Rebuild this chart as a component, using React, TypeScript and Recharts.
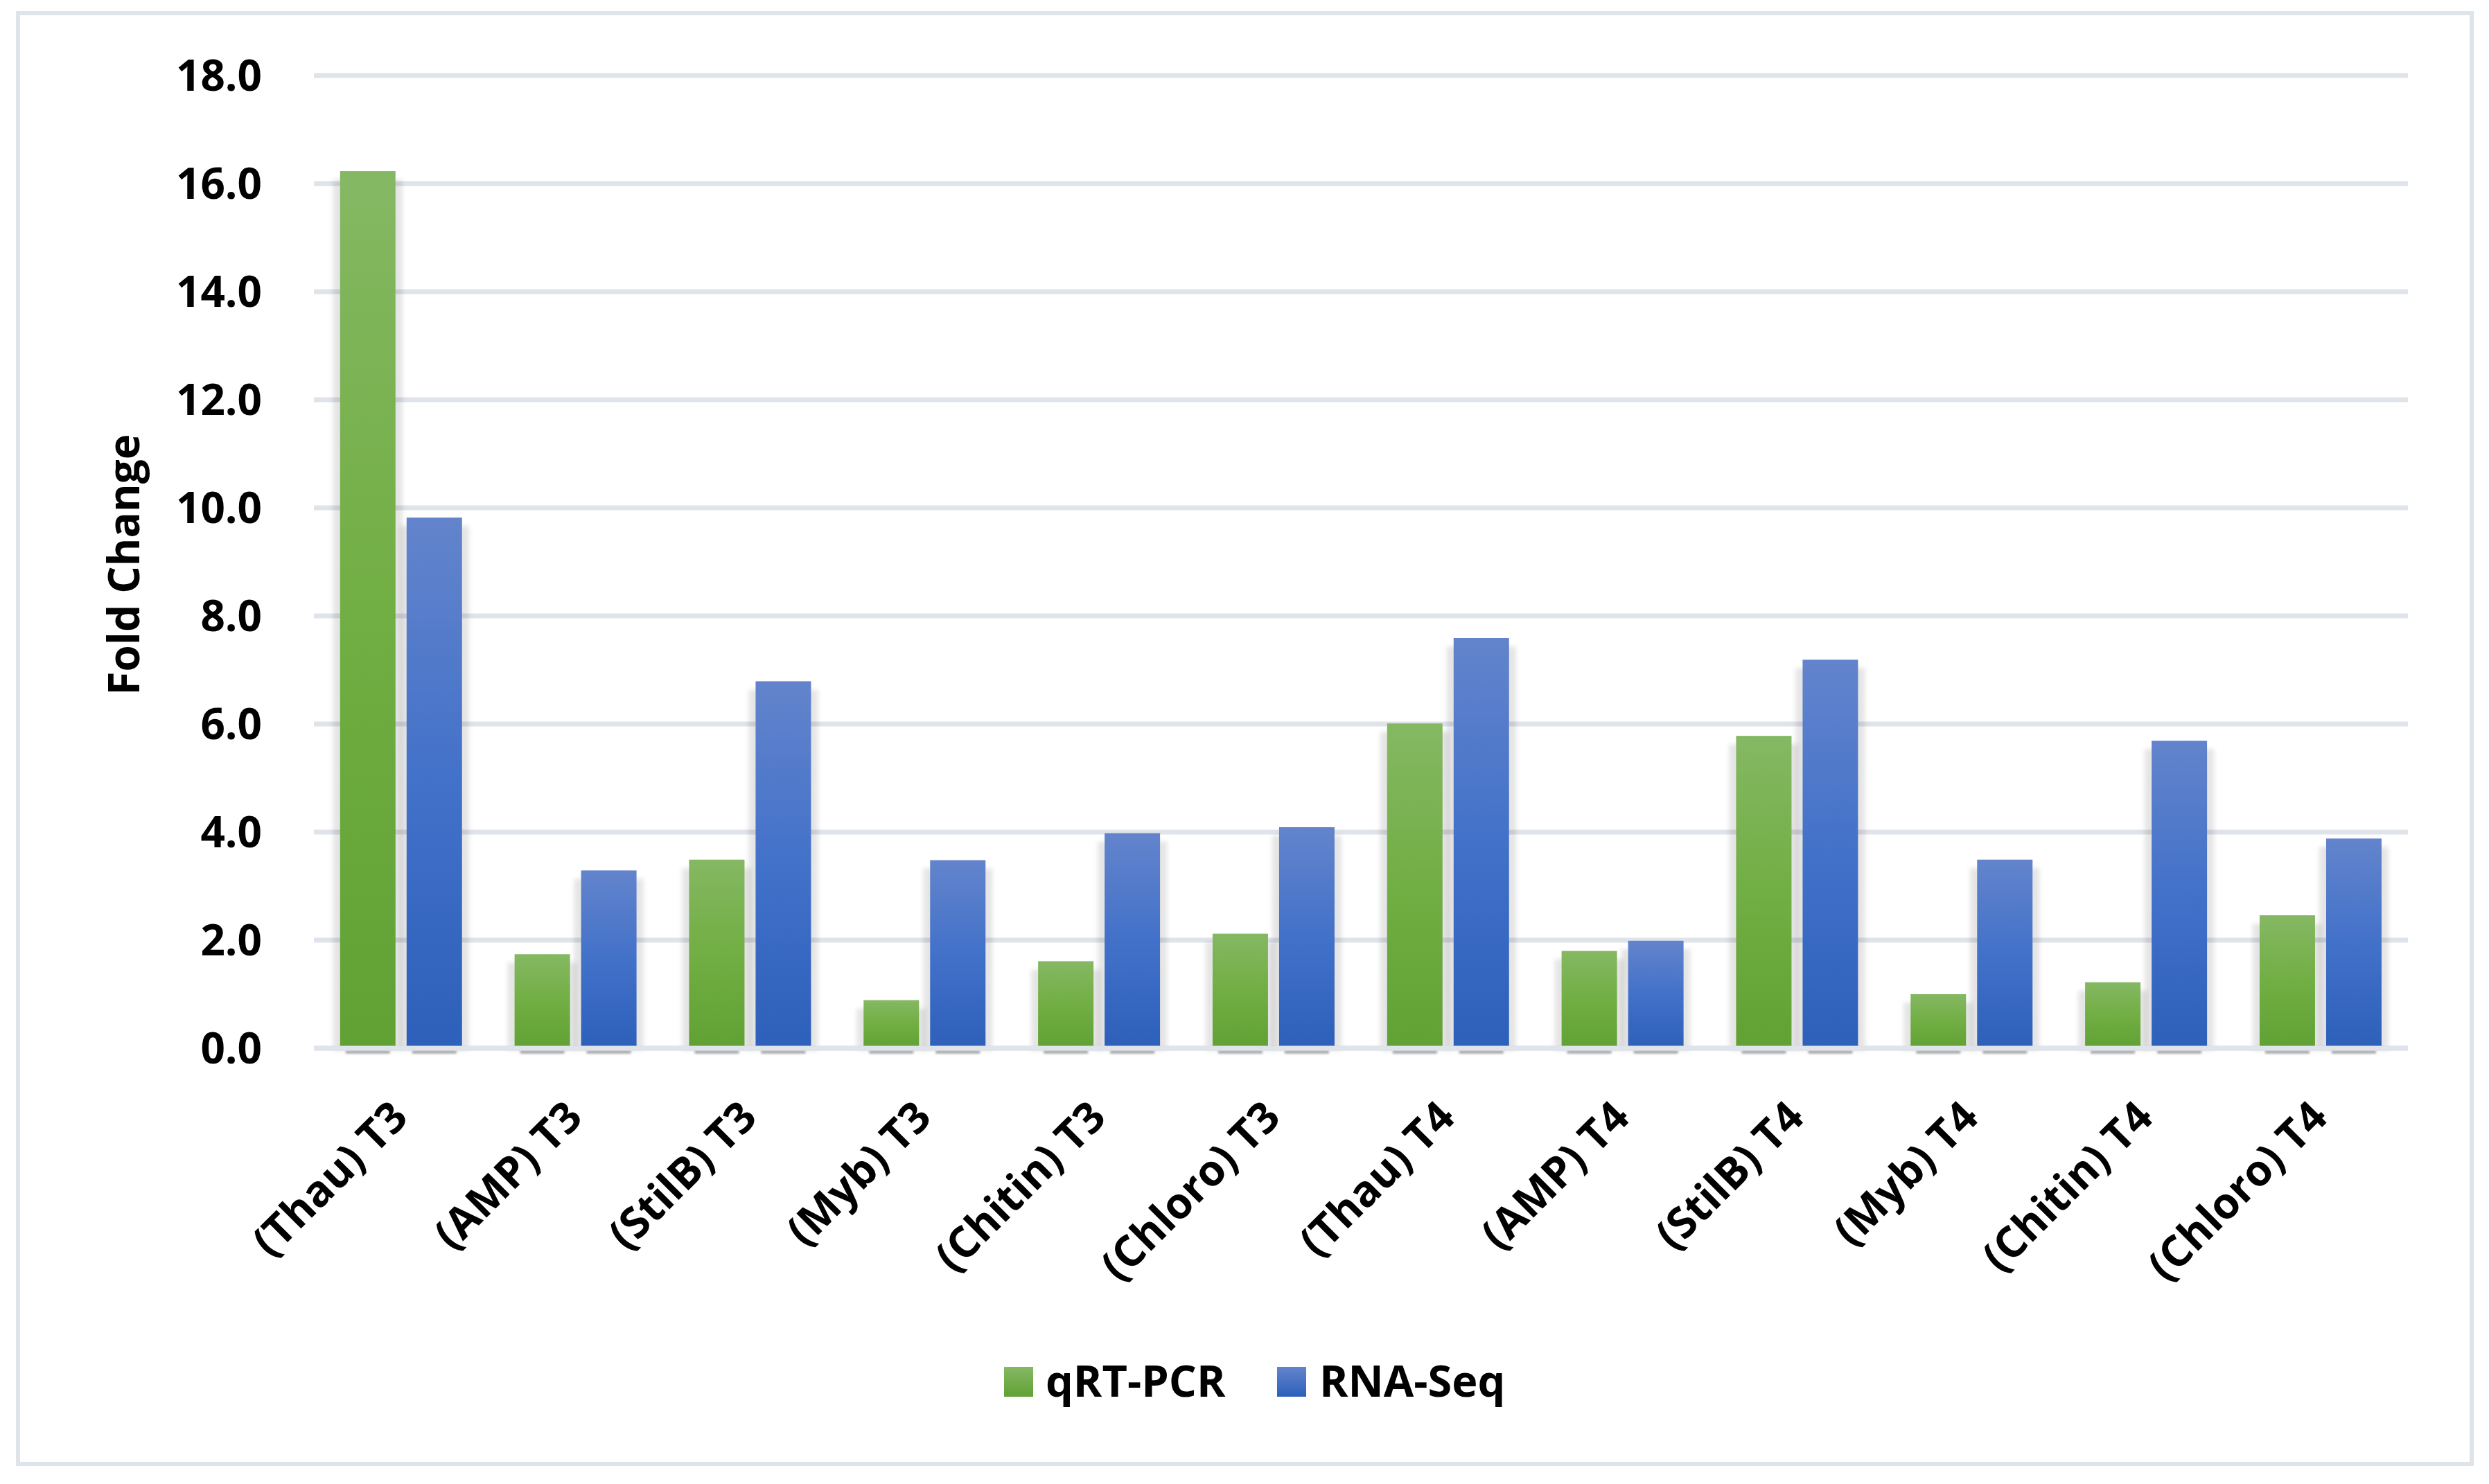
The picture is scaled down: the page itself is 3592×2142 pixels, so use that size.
import React from 'react';
import { BarChart, Bar, XAxis, YAxis, CartesianGrid, ReferenceLine } from 'recharts';

const categories = [
  '(Thau) T3', '(AMP) T3', '(StilB) T3', '(Myb) T3', '(Chitin) T3', '(Chloro) T3',
  '(Thau) T4', '(AMP) T4', '(StilB) T4', '(Myb) T4', '(Chitin) T4', '(Chloro) T4',
];
const qrtPcr = [16.23, 1.74, 3.49, 0.89, 1.61, 2.12, 6.01, 1.8, 5.78, 1.0, 1.22, 2.46];
const rnaSeq = [9.82, 3.29, 6.79, 3.48, 3.98, 4.09, 7.59, 1.99, 7.19, 3.49, 5.69, 3.88];
const yTicks = [0, 2, 4, 6, 8, 10, 12, 14, 16, 18];
const seriesNames = ['qRT-PCR', 'RNA-Seq'];
const yLabel = 'Fold Change';

const data = categories.map((c, i) => ({ name: c, qrt: qrtPcr[i], rna: rnaSeq[i] }));

const FONT = '"Open Sans", "Noto Sans", sans-serif';
const GRID = '#DFE3EA';

function ShadowBar(props: any) {
  const { x, y, width, height, fill } = props;
  if (!height || height <= 0) return null;
  const bottom = y + height;
  const haloTop = Math.min(y + 12, bottom);
  return (
    <g>
      <rect x={x - 10} y={haloTop} width={width + 20} height={bottom - haloTop + 3} fill="#000" fillOpacity={0.1} filter="url(#halo)" />
      <rect x={x + 8} y={bottom + 3} width={width - 16} height={5} fill="#000" fillOpacity={0.3} filter="url(#strip)" />
      <rect x={x} y={y} width={width} height={height} fill={fill} />
    </g>
  );
}

function XTick(props: any) {
  const { x, y, payload } = props;
  return (
    <text
      x={0}
      y={0}
      transform={`translate(${x + 13},${y + 95}) rotate(-45)`}
      textAnchor="end"
      fontFamily={FONT}
      fontWeight={700}
      fontSize={62}
      fill="#000"
    >
      {payload.value}
    </text>
  );
}

function YLabel(props: any) {
  const vb = props.viewBox || { x: 73, y: 109, width: 380, height: 1404 };
  const cx = vb.x + 128;
  const cy = vb.y + vb.height / 2 + 4;
  return (
    <text
      x={cx}
      y={cy}
      transform={`rotate(-90, ${cx}, ${cy})`}
      textAnchor="middle"
      fontFamily={FONT}
      fontWeight={700}
      fontSize={62}
      fill="#000"
    >
      {yLabel}
    </text>
  );
}

const gradients = (
  <>
    <linearGradient id="gGreen" x1="0" y1="0" x2="0" y2="1">
      <stop offset="0%" stopColor="#85B863" />
      <stop offset="50%" stopColor="#71AE43" />
      <stop offset="100%" stopColor="#61A134" />
    </linearGradient>
    <linearGradient id="gBlue" x1="0" y1="0" x2="0" y2="1">
      <stop offset="0%" stopColor="#6384CC" />
      <stop offset="50%" stopColor="#4271C9" />
      <stop offset="100%" stopColor="#2D60BA" />
    </linearGradient>
  </>
);

export default function App() {
  return (
    <div style={{ position: 'absolute', left: 0, top: 0, width: 3592, height: 2142, background: '#fff' }}>
      <BarChart
        width={3592}
        height={2142}
        data={data}
        margin={{ top: 109, right: 117, left: 73, bottom: 229 }}
        barCategoryGap="15%"
        barGap={16}
      >
        <defs>
          {gradients}
          <filter id="halo" x="-30%" y="-10%" width="160%" height="120%">
            <feGaussianBlur stdDeviation="3" />
          </filter>
          <filter id="strip" x="-20%" y="-300%" width="140%" height="700%">
            <feGaussianBlur stdDeviation="1.5" />
          </filter>
        </defs>
        <CartesianGrid vertical={false} stroke={GRID} strokeWidth={7} />
        <XAxis
          dataKey="name"
          interval={0}
          height={400}
          axisLine={false}
          tickLine={false}
          tick={<XTick />}
        />
        <YAxis
          width={380}
          domain={[0, 18]}
          ticks={yTicks}
          interval={0}
          axisLine={false}
          tickLine={false}
          tickMargin={69}
          tickFormatter={(v: number) => v.toFixed(1)}
          tick={{ fontFamily: FONT, fontWeight: 700, fontSize: 62, fill: '#000' }}
          label={{ content: (p: any) => <YLabel {...p} /> }}
        />
        <Bar dataKey="qrt" name={seriesNames[0]} fill="url(#gGreen)" shape={<ShadowBar />} isAnimationActive={false} />
        <Bar dataKey="rna" name={seriesNames[1]} fill="url(#gBlue)" shape={<ShadowBar />} isAnimationActive={false} />
        <ReferenceLine y={0} stroke={GRID} strokeWidth={7} ifOverflow="extendDomain" />
      </BarChart>
      <svg
        width={3592}
        height={2142}
        style={{ position: 'absolute', left: 0, top: 0, pointerEvents: 'none' }}
      >
        <defs>
          <linearGradient id="lgGreen" x1="0" y1="0" x2="0" y2="1">
            <stop offset="0%" stopColor="#85B863" />
            <stop offset="100%" stopColor="#61A134" />
          </linearGradient>
          <linearGradient id="lgBlue" x1="0" y1="0" x2="0" y2="1">
            <stop offset="0%" stopColor="#6384CC" />
            <stop offset="100%" stopColor="#2D60BA" />
          </linearGradient>
        </defs>
        <rect x={26} y={19} width={3541} height={2094} fill="none" stroke={GRID} strokeWidth={6} />
        <rect x={1449} y={1973} width={42} height={43} fill="url(#lgGreen)" />
        <text x={1509} y={2016} fontFamily={FONT} fontWeight={700} fontSize={63} fill="#000">
          {seriesNames[0]}
        </text>
        <rect x={1843} y={1973} width={42} height={43} fill="url(#lgBlue)" />
        <text x={1904} y={2016} fontFamily={FONT} fontWeight={700} fontSize={63} fill="#000">
          {seriesNames[1]}
        </text>
      </svg>
    </div>
  );
}
